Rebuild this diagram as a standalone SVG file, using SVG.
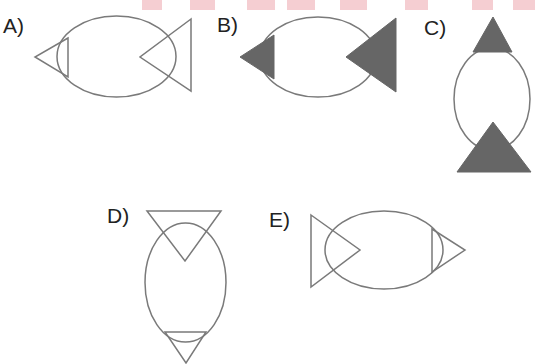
<svg xmlns="http://www.w3.org/2000/svg" width="535" height="364" viewBox="0 0 535 364">
<style>
.o{fill:none;stroke:#7a7a7a;stroke-width:1.5}
.f{fill:#666;stroke:#666;stroke-width:1}
.l{font-family:"Liberation Sans",Arial,sans-serif;font-size:21px;fill:#222}
.w{fill:#f5ced2}
</style>
<rect width="535" height="364" fill="#fff"/>
<g id="watermark">
<rect class="w" x="142" y="0" width="20" height="10"/>
<rect class="w" x="190" y="0" width="25" height="10"/>
<rect class="w" x="247" y="0" width="28" height="10"/>
<rect class="w" x="287" y="0" width="28" height="10"/>
<rect class="w" x="340" y="0" width="27" height="10"/>
<rect class="w" x="405" y="0" width="23" height="10"/>
<rect class="w" x="472" y="0" width="21" height="10"/>
<rect class="w" x="513" y="0" width="22" height="10"/>
</g>
<g id="A">
<text class="l" x="3" y="33">A)</text>
<ellipse class="o" cx="116.5" cy="56.5" rx="59.5" ry="40.5"/>
<path class="o" d="M68,38 L35,57 L68,77 Z"/>
<path class="o" d="M191,19 L140,57 L191,91 Z"/>
</g>
<g id="B">
<text class="l" x="217" y="32">B)</text>
<ellipse class="o" cx="318" cy="57" rx="58" ry="40"/>
<path class="f" d="M274,35 L240,57 L274,79 Z"/>
<path class="f" d="M396,18 L346,57 L396,92 Z"/>
</g>
<g id="C">
<text class="l" x="424" y="35">C)</text>
<ellipse class="o" cx="492" cy="99" rx="38" ry="51"/>
<path class="f" d="M473,52 L493,17 L512,52 Z"/>
<path class="f" d="M457,172 L493,122 L531,172 Z"/>
</g>
<g id="D">
<text class="l" x="107" y="223">D)</text>
<ellipse class="o" cx="185.5" cy="282.5" rx="40.5" ry="59.5"/>
<path class="o" d="M147,211 L221,211 L185,261 Z"/>
<path class="o" d="M165,332 L206,332 L186,363 Z"/>
</g>
<g id="E">
<text class="l" x="269" y="227">E)</text>
<ellipse class="o" cx="384" cy="250" rx="59" ry="39"/>
<path class="o" d="M311,215 L360,250 L311,287 Z"/>
<path class="o" d="M432,229 L465,250 L432,272 Z"/>
</g>
</svg>
